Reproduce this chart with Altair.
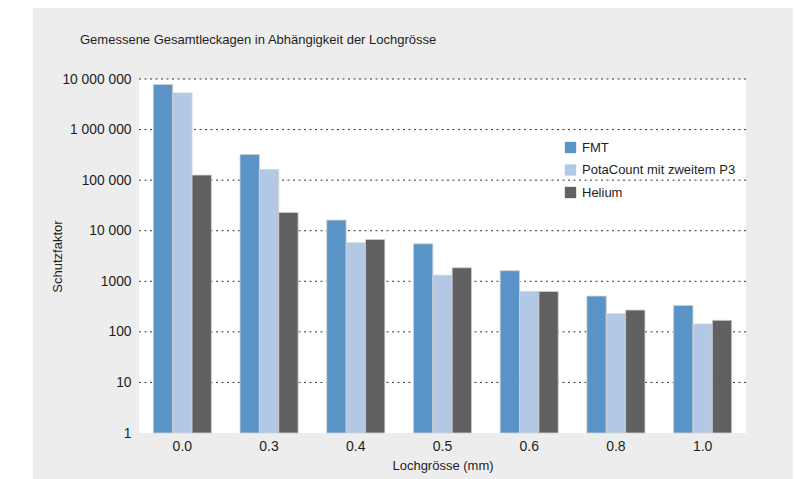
import altair as alt
import pandas as pd

# Hole sizes (mm) and the three measuring methods
sizes = ["0.0", "0.3", "0.4", "0.5", "0.6", "0.8", "1.0"]
series = ["FMT", "PotaCount mit zweitem P3", "Helium"]

# Protection factors per hole size
fmt = [7800000, 322000, 16200, 5500, 1620, 510, 333]
pota = [5300000, 163000, 5800, 1320, 630, 228, 143]
helium = [126000, 23000, 6700, 1850, 630, 270, 169]

colors = ["#5a93c6", "#b3c8e5", "#616161"]

# Log axis ticks and their printed labels
tick_values = [1, 10, 100, 1000, 10000, 100000, 1000000, 10000000]
tick_labels = ["1", "10", "100", "1000", "10 000", "100 000", "1 000 000", "10 000 000"]

rows = []
for name, vals in zip(series, [fmt, pota, helium]):
    for s, v in zip(sizes, vals):
        rows.append({"size": s, "series": name, "value": v})
df = pd.DataFrame(rows)

W, H = 607, 354
FONT = "Liberation Sans"
TXT = "#1e1e1e"

label_expr = (
    "[" + ",".join(f"'{t}'" for t in tick_labels) + "]"
    + "[indexof([" + ",".join(str(v) for v in tick_values) + "], datum.value)]"
)

y_scale = alt.Scale(type="log", domain=[1, 10000000])
y_axis = alt.Axis(
    values=tick_values, labelExpr=label_expr, grid=False, ticks=False,
    domain=False, labelPadding=8, zindex=1, labelFontSize=13.8,
    titleX=-82, titleY=H / 2, titleAngle=-90,
    titleAlign="center", titleBaseline="middle",
)

# grey panel behind the whole figure, white plotting area on top of it
panel = alt.Chart(alt.Data(values=[{}])).mark_rect(color="#ededed").encode(
    x=alt.value(-106), x2=alt.value(654), y=alt.value(-71), y2=alt.value(400)
)
plot_bg = alt.Chart(alt.Data(values=[{}])).mark_rect(color="white").encode(
    x=alt.value(0), x2=alt.value(W), y=alt.value(0), y2=alt.value(H)
)

# dotted horizontal grid at each decade
grid = alt.Chart(alt.Data(values=[{"value": v} for v in tick_values[1:]])).mark_rule(
    color="#333333", strokeDash=[2, 3.5], strokeWidth=1
).encode(y=alt.Y("value:Q", title="Schutzfaktor", scale=y_scale, axis=y_axis))

bars = alt.Chart(df).mark_bar(stroke="#d2d2d2", strokeWidth=0.8).encode(
    x=alt.X(
        "size:N",
        sort=sizes,
        title="Lochgrösse (mm)",
        scale=alt.Scale(paddingInner=0.33, paddingOuter=0.165),
        axis=alt.Axis(
            labelAngle=0, ticks=False, domain=False, grid=False,
            labelPadding=6, titlePadding=6, zindex=1, labelFontSize=14,
        ),
    ),
    xOffset=alt.XOffset("series:N", sort=series, scale=alt.Scale(paddingInner=0, paddingOuter=0)),
    y=alt.Y("value:Q", title="Schutzfaktor", scale=y_scale, axis=y_axis),
    y2=alt.datum(1),
    color=alt.Color(
        "series:N",
        sort=series,
        scale=alt.Scale(domain=series, range=colors),
        legend=alt.Legend(
            title=None, orient="none", legendX=425, legendY=62,
            symbolType="square", symbolSize=128, symbolStrokeWidth=0,
            labelFontSize=13, labelOffset=5, rowPadding=8.5, padding=0,
            labelColor=TXT, labelFont=FONT, labelLimit=300,
        ),
    ),
)

chart = alt.layer(panel, plot_bg, grid, bars).properties(
    width=W,
    height=H,
    padding={"left": 139, "top": 79, "right": 49, "bottom": 46},
    autosize=alt.AutoSizeParams(type="none"),
    title=alt.TitleParams(
        "Gemessene Gesamtleckagen in Abhängigkeit der Lochgrösse",
        anchor="start", frame="group", dx=-59, offset=0, dy=39,
        fontSize=13, fontWeight="normal", color=TXT, font=FONT,
    ),
).configure(
    background="white", font=FONT
).configure_view(
    stroke=None
).configure_axis(
    labelFont=FONT, titleFont=FONT, titleFontSize=13,
    labelColor=TXT, titleColor=TXT, titleFontWeight="normal",
)

chart.save("out.html", embed_options={"renderer": "svg", "actions": False})
